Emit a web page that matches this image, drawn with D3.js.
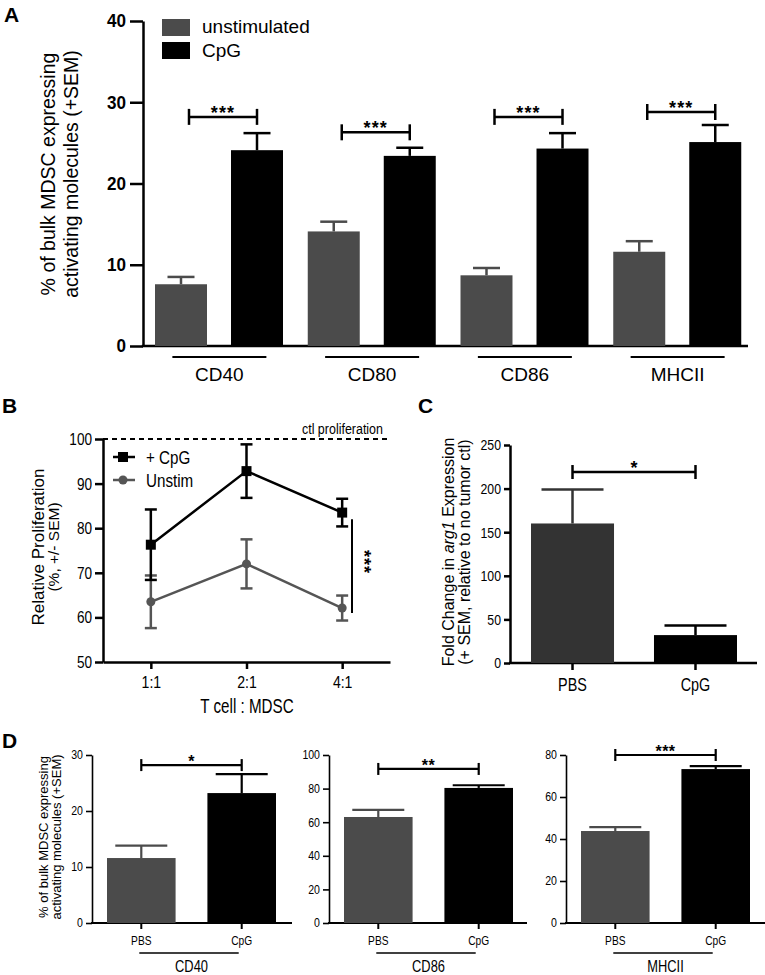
<!DOCTYPE html>
<html><head><meta charset="utf-8">
<script src="https://cdn.jsdelivr.net/npm/d3@7"></script>
<style>
body{margin:0;background:#fff}
svg{display:block}
.r{font-family:"Liberation Sans",Arial,Helvetica,sans-serif}
</style></head><body>
<svg id="c" width="765" height="975"></svg>
<script>
// ---------- DATA ----------
const aCategories = ["CD40","CD80","CD86","MHCII"];
const aSeries = ["unstimulated","CpG"];
const aUnstim = [7.6,14.1,8.7,11.6];
const aUnstimSEM = [0.9,1.2,0.9,1.3];
const aCpG = [24.1,23.4,24.3,25.1];
const aCpGSEM = [2.1,1.0,1.9,2.1];
const aSigLevel = [28.2,26.3,28.2,28.8];
const aSigLabel = ["***","***","***","***"];
const aTicks = [0,10,20,30,40];

const bRatios = ["1:1","2:1","4:1"];
const bSeries = ["+ CpG","Unstim"];
const bCpG = [76.3,92.8,83.5];
const bCpGSEM = [7.9,6.0,3.1];
const bUnstim = [63.5,72.0,62.1];
const bUnstimSEM = [5.9,5.5,2.8];
const bTicks = [50,60,70,80,90,100];
const bCtl = 100;
const bSigSpan = [82,61];

const cGroups = ["PBS","CpG"];
const cValues = [160,32];
const cSEM = [39,11];
const cSig = 219;
const cTicks = [0,50,100,150,200,250];

const dMarkers = ["CD40","CD86","MHCII"];
const dGroups = ["PBS","CpG"];
const dPBS = [11.6,63.1,43.8];
const dPBSSEM = [2.2,4.2,1.9];
const dCpG = [23.2,80.4,73.3];
const dCpGSEM = [3.4,1.6,1.4];
const dSig = [28.2,91.7,80];
const dSigLabel = ["*","**","***"];
const dTicks = [[0,10,20,30],[0,20,40,60,80,100],[0,20,40,60,80]];

// ---------- HELPERS ----------
const svg = d3.select("#c");
const GREY = "#4b4b4b";

// horizontally condense text (Helvetica Condensed look)
function condense(sel, sx){
  sel.each(function(){
    const t = d3.select(this);
    const x = +t.attr("x")||0, y = +t.attr("y")||0;
    t.attr("x",0).attr("y",0).attr("transform",`translate(${x},${y}) scale(${sx},1)`);
  });
  return sel;
}
function styleAxis(g, sw, fs, sx, weight){
  g.selectAll("path.domain").attr("stroke","#000").attr("stroke-width",sw);
  g.selectAll(".tick line").attr("stroke","#000").attr("stroke-width",sw);
  const t = g.selectAll(".tick text").attr("class","r").attr("font-size",fs)
    .attr("font-weight",weight||"normal").attr("fill","#000");
  if(sx && sx!==1) condense(t,sx);
}
function hline(g,x1,x2,y,sw){
  return g.append("line").attr("x1",x1).attr("x2",x2).attr("y1",y).attr("y2",y)
   .attr("stroke","#000").attr("stroke-width",sw);
}
function errUp(g,x,y0,y1,cap,color,sw){
  g.append("line").attr("x1",x).attr("x2",x).attr("y1",y0).attr("y2",y1).attr("stroke",color).attr("stroke-width",sw);
  g.append("line").attr("x1",x-cap/2).attr("x2",x+cap/2).attr("y1",y1).attr("y2",y1).attr("stroke",color).attr("stroke-width",sw);
}
function bracket(g,x1,x2,y,h,sw,label,fs,dy,ls){
  hline(g,x1,x2,y,sw);
  [x1,x2].forEach(x=>g.append("line").attr("x1",x).attr("x2",x).attr("y1",y-h).attr("y2",y+h)
      .attr("stroke","#000").attr("stroke-width",sw));
  g.append("text").attr("class","r").attr("font-weight","bold").attr("font-size",fs)
   .attr("letter-spacing",ls||0)
   .attr("x",(x1+x2)/2).attr("y",y+dy).attr("text-anchor","middle").text(label);
}
function panelLabel(x,y,t){
  svg.append("text").attr("class","r").attr("font-weight","bold").attr("font-size",21)
    .attr("x",x).attr("y",y).text(t);
}
function vlabel(g,lines,cy){
  lines.forEach(l=>{
    const t=g.append("text").attr("class","r").attr("font-size",l.fs)
      .attr("transform",`translate(${l.x},${cy}) rotate(-90)`).attr("text-anchor","middle");
    l.parts.forEach(p=>t.append("tspan").attr("font-style",p.i?"italic":"normal").text(p.t));
  });
}
function ntext(g,x,y,fs,sx,txt,anchor){
  const t = g.append("text").attr("class","r").attr("font-size",fs).attr("x",x).attr("y",y)
    .attr("text-anchor",anchor||"start").text(txt);
  return condense(t,sx);
}

// ---------- PANEL A ----------
panelLabel(4,22,"A");
const A = svg.append("g");
const ay = d3.scaleLinear().domain([0,40]).range([346,21]);
const ax = d3.scaleBand().domain(aCategories).range([143,754]);
const ai = d3.scaleBand().domain(aSeries).range([12,140]).paddingInner(0.316);
const gya = A.append("g").attr("transform","translate(143,0)")
  .call(d3.axisLeft(ay).tickValues(aTicks).tickSize(13).tickSizeOuter(0).tickPadding(4));
styleAxis(gya,2.5,18,0.95,"bold");
hline(A,141.8,748,346,2.5);
aCategories.forEach((c,i)=>{
  const x0 = ax(c);
  const xs = [aUnstim[i],aCpG[i]];
  const es = [aUnstimSEM[i],aCpGSEM[i]];
  aSeries.forEach((s,j)=>{
    const bx = x0+ai(s), bw = ai.bandwidth();
    A.append("rect").attr("x",bx).attr("y",ay(xs[j])).attr("width",bw)
      .attr("height",ay(0)-ay(xs[j])).attr("fill",j?"#000":GREY);
    errUp(A,bx+bw/2,ay(xs[j]),ay(xs[j]+es[j]),27,j?"#000":GREY,2.5);
  });
  const c1 = x0+ai(aSeries[0])+ai.bandwidth()/2+8;
  const c2 = x0+ai(aSeries[1])+ai.bandwidth()/2;
  bracket(A,c1,c2,ay(aSigLevel[i]),8,2.5,aSigLabel[i],18,2,1.2);
  const gc = x0+ax.bandwidth()/2;
  hline(A,gc-47,gc+47,357,2);
  A.append("text").attr("class","r").attr("font-size",19).attr("x",gc).attr("y",381)
    .attr("text-anchor","middle").text(c);
});
// legend
[GREY,"#000"].forEach((col,j)=>{
  A.append("rect").attr("x",162).attr("y",19+j*23).attr("width",28).attr("height",17).attr("fill",col);
  A.append("text").attr("class","r").attr("font-size",19).attr("x",202).attr("y",33+j*24).text(aSeries[j]);
});
vlabel(A,[{x:55,fs:19.5,parts:[{t:"% of bulk MDSC expressing"}]},{x:78,fs:19.5,parts:[{t:"activating molecules (+SEM)"}]}],174);

// ---------- PANEL B ----------
panelLabel(2,413,"B");
const B = svg.append("g");
const bxs = d3.scalePoint().domain(bRatios).range([103,390]).padding(0.5);
const bys = d3.scaleLinear().domain([50,100]).range([662,439]);
const gyb = B.append("g").attr("transform","translate(103,0)")
  .call(d3.axisLeft(bys).tickValues(bTicks).tickSize(8).tickSizeOuter(0).tickPadding(3));
styleAxis(gyb,2.5,17,0.8);
const gxb = B.append("g").attr("transform","translate(0,662)")
  .call(d3.axisBottom(bxs).tickSize(7).tickSizeOuter(0).tickPadding(8));
styleAxis(gxb,2.5,16,0.88);
B.append("line").attr("x1",103).attr("x2",387).attr("y1",bys(bCtl)).attr("y2",bys(bCtl))
  .attr("stroke","#000").attr("stroke-width",2).attr("stroke-dasharray","5,4");
ntext(B,383,434,14.5,0.86,"ctl proliferation","end");
const bSets = [{v:bUnstim,e:bUnstimSEM,c:"#555",sq:false},{v:bCpG,e:bCpGSEM,c:"#000",sq:true}];
bSets.forEach(s=>{
  B.append("path").attr("d",d3.line().x((d,i)=>bxs(bRatios[i])).y(d=>bys(d))(s.v))
    .attr("fill","none").attr("stroke",s.c).attr("stroke-width",2.5);
  s.v.forEach((d,i)=>{
    const x=bxs(bRatios[i]);
    B.append("line").attr("x1",x).attr("x2",x).attr("y1",bys(d-s.e[i])).attr("y2",bys(d+s.e[i])).attr("stroke",s.c).attr("stroke-width",2.5);
    [d-s.e[i],d+s.e[i]].forEach(v=>hline(B,x-6,x+6,bys(v),2.5).attr("stroke",s.c));
  });
});
bSets.forEach(s=>{
  s.v.forEach((d,i)=>{
    const x=bxs(bRatios[i]);
    if(s.sq) B.append("rect").attr("x",x-5).attr("y",bys(d)-5).attr("width",10).attr("height",10).attr("fill",s.c);
    else B.append("circle").attr("cx",x).attr("cy",bys(d)).attr("r",4.5).attr("fill",s.c);
  });
});
// legend B
[{c:"#000",sq:true,y:457,t:bSeries[0]},{c:"#555",sq:false,y:480,t:bSeries[1]}].forEach(l=>{
  B.append("line").attr("x1",113).attr("x2",135).attr("y1",l.y).attr("y2",l.y).attr("stroke",l.c).attr("stroke-width",2.5);
  if(l.sq) B.append("rect").attr("x",118).attr("y",l.y-5).attr("width",10).attr("height",10).attr("fill",l.c);
  else B.append("circle").attr("cx",123).attr("cy",l.y).attr("r",4.5).attr("fill",l.c);
  ntext(B,146,l.y+7,19,0.8,l.t);
});
B.append("line").attr("x1",352).attr("x2",352).attr("y1",bys(bSigSpan[0])).attr("y2",bys(bSigSpan[1]))
  .attr("stroke","#000").attr("stroke-width",2);
B.append("text").attr("class","r").attr("font-weight","bold").attr("font-size",18).attr("letter-spacing",1)
  .attr("transform","translate(358,562) rotate(90)").attr("text-anchor","middle").text("***");
vlabel(B,[{x:44,fs:17,parts:[{t:"Relative Proliferation"}]},{x:59,fs:15.5,parts:[{t:"(%, +/- SEM)"}]}],547);
ntext(B,247,713,20,0.76,"T cell : MDSC","middle");

// ---------- PANEL C ----------
panelLabel(418,413,"C");
const C = svg.append("g");
const cy = d3.scaleLinear().domain([0,250]).range([663,445]);
const cx = d3.scaleBand().domain(cGroups).range([531,737]).paddingInner(0.325);
const gyc = C.append("g").attr("transform","translate(510,0)")
  .call(d3.axisLeft(cy).tickValues(cTicks).tickSize(6).tickSizeOuter(0).tickPadding(3));
styleAxis(gyc,2.5,15,0.82);
const gxc = C.append("g").attr("transform","translate(0,663)")
  .call(d3.axisBottom(cx).tickSize(7).tickSizeOuter(0).tickPadding(8));
styleAxis(gxc,2.5,18,0.8);
gxc.select("path.domain").attr("d","M509,0H757");
cGroups.forEach((g,i)=>{
  const x=cx(g), w=cx.bandwidth();
  C.append("rect").attr("x",x).attr("y",cy(cValues[i])).attr("width",w).attr("height",cy(0)-cy(cValues[i]))
    .attr("fill",i?"#000":"#333");
  errUp(C,x+w/2,cy(cValues[i]),cy(cValues[i]+cSEM[i]),62,i?"#000":"#333",2.5);
});
bracket(C,cx(cGroups[0])+cx.bandwidth()/2,cx(cGroups[1])+cx.bandwidth()/2,cy(cSig),7,2.5,"*",18,2);
vlabel(C,[{x:454,fs:16,parts:[{t:"Fold Change in "},{t:"arg1",i:true},{t:" Expression"}]},
          {x:470,fs:16,parts:[{t:"(+ SEM, relative to no tumor ctl)"}]}],552);

// ---------- PANEL D ----------
panelLabel(2,748,"D");
dMarkers.forEach((m,k)=>{
  const G = svg.append("g");
  const axX = 92+k*237;
  const end = [292,527,765][k];
  const dy = d3.scaleLinear().domain([0,dTicks[k][dTicks[k].length-1]]).range([923,755]);
  const dx = d3.scaleBand().domain(dGroups).range([axX+15,axX+184]).paddingInner(0.317);
  const gy = G.append("g").attr("transform",`translate(${axX},0)`)
    .call(d3.axisLeft(dy).tickValues(dTicks[k]).tickSize(6).tickSizeOuter(0).tickPadding(3));
  styleAxis(gy,1.6,12,0.88);
  const gx = G.append("g").attr("transform","translate(0,923)")
    .call(d3.axisBottom(dx).tickSize(6).tickSizeOuter(0).tickPadding(7));
  styleAxis(gx,2,12,0.85);
  gx.select("path.domain").attr("d",`M${axX-1},0H${end}`);
  const vals=[dPBS[k],dCpG[k]], ers=[dPBSSEM[k],dCpGSEM[k]];
  dGroups.forEach((g,i)=>{
    const x=dx(g), w=dx.bandwidth();
    G.append("rect").attr("x",x).attr("y",dy(vals[i])).attr("width",w).attr("height",dy(0)-dy(vals[i]))
      .attr("fill",i?"#000":GREY);
    errUp(G,x+w/2,dy(vals[i]),dy(vals[i]+ers[i]),52,i?"#000":GREY,2.2);
  });
  const c1=dx(dGroups[0])+dx.bandwidth()/2, c2=dx(dGroups[1])+dx.bandwidth()/2;
  bracket(G,c1,c2,dy(dSig[k]),6,2.2,dSigLabel[k],16,2,0.5);
  hline(G,c1-2,c2-3,953,1.6);
  ntext(G,(c1+c2)/2,972,16.5,0.78,m,"middle");
});
vlabel(svg,[{x:48,fs:13,parts:[{t:"% of bulk MDSC expressing"}]},{x:61,fs:13,parts:[{t:"activating molecules (+SEM)"}]}],837);
</script>
</body></html>
